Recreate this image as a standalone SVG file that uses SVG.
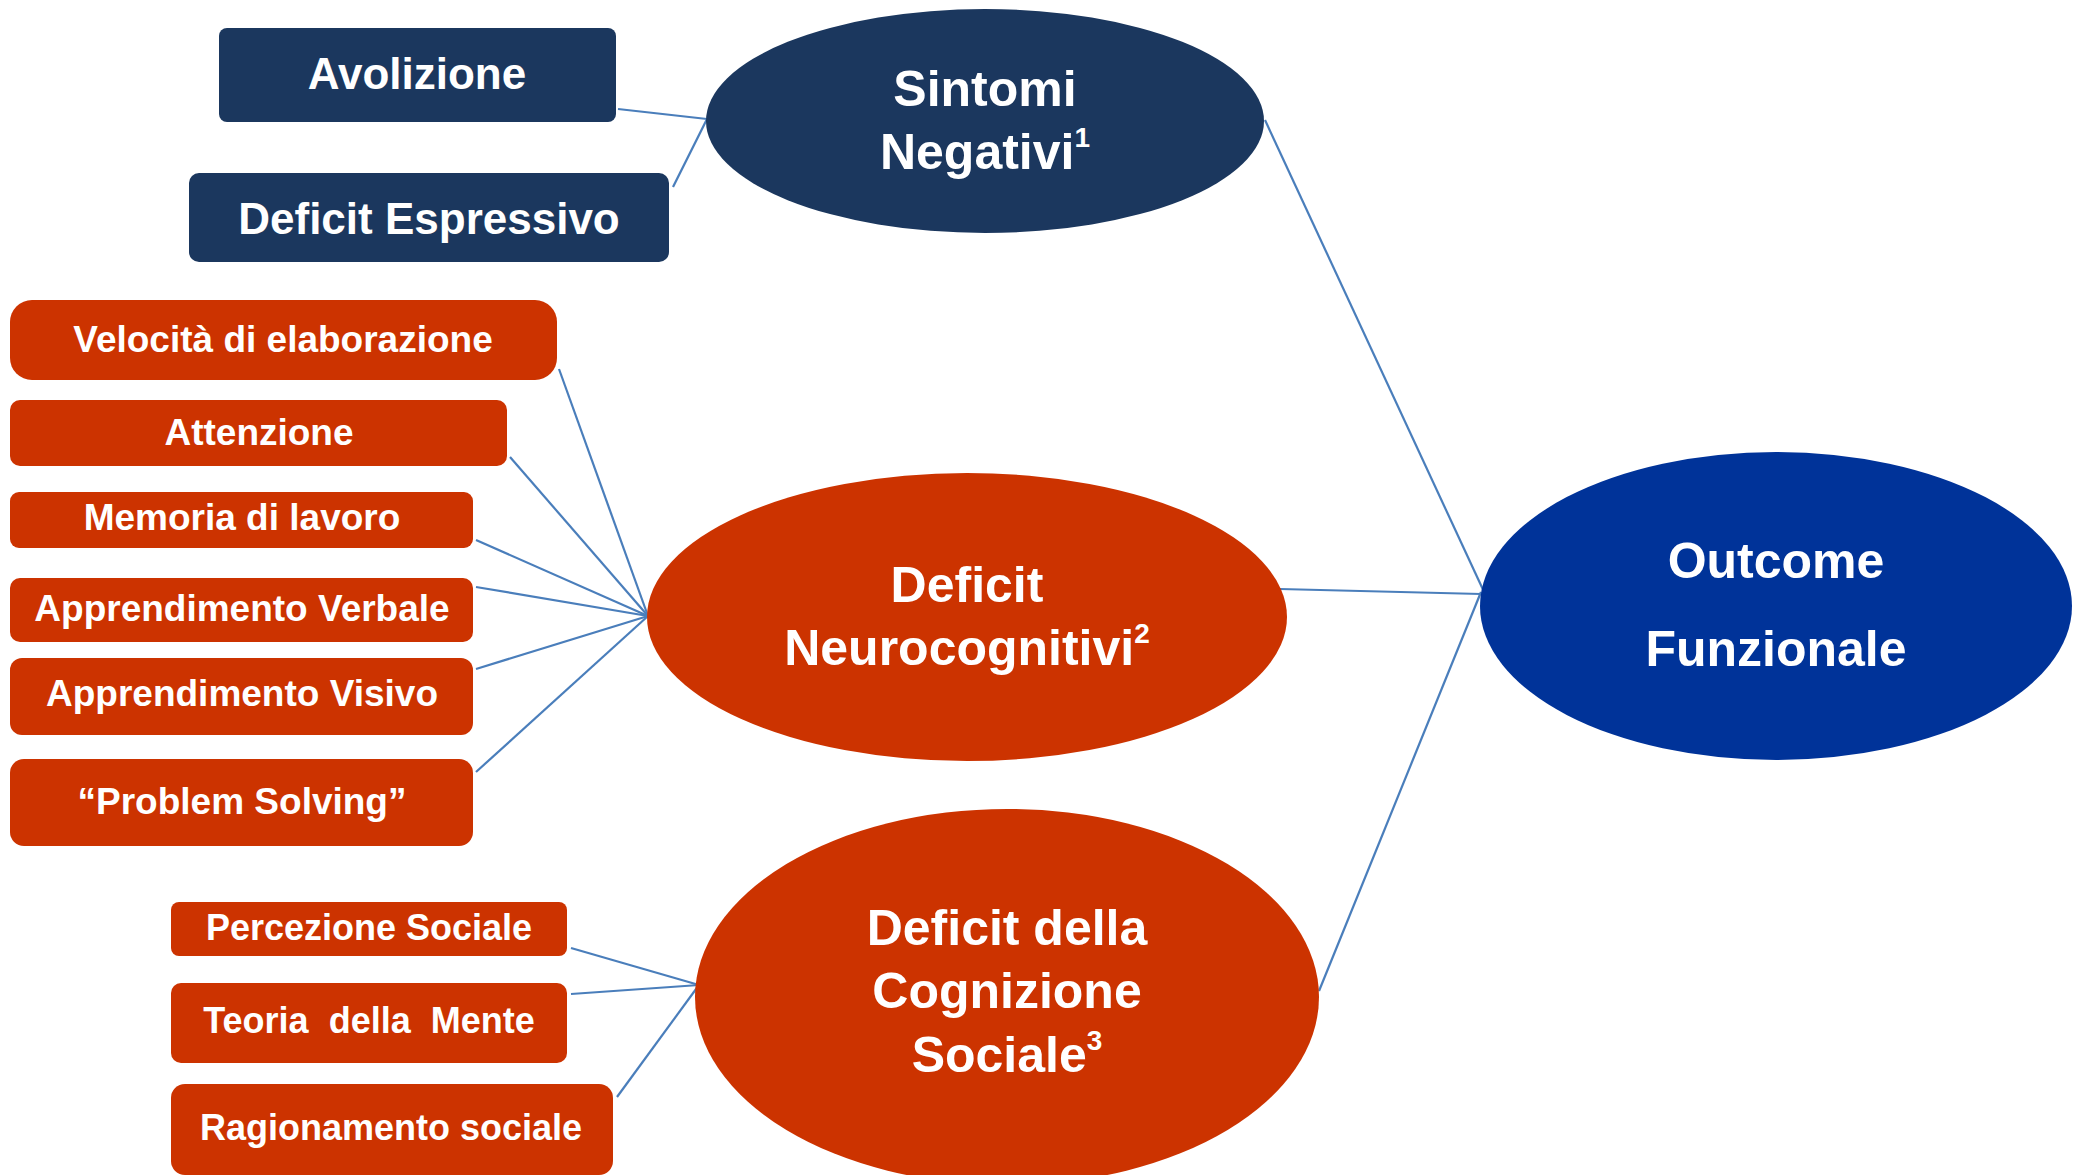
<svg xmlns="http://www.w3.org/2000/svg" width="2085" height="1175" viewBox="0 0 2085 1175">
  <style>
    .navy { fill: #1b375e; }
    .red { fill: #cc3300; }
    .blue { fill: #003399; }
    .lbl { font-family: "Liberation Sans", Arial, sans-serif; font-weight: bold; fill: #ffffff; text-anchor: middle; }
    .big { font-size: 50px; }
    .mid { font-size: 44px; }
    .sm { font-size: 37px; }
    .xs { font-size: 36px; }
    .sup { font-size: 28px; }
    .conn line { stroke: #4a7ebb; stroke-width: 2.2; fill: none; }
  </style>
  <rect width="2085" height="1175" fill="#ffffff"/>

  <!-- connectors -->
  <g id="connectors" class="conn">
    <line x1="618" y1="109" x2="707" y2="119"/>
    <line x1="673" y1="187" x2="707" y2="119"/>
    <line x1="559" y1="369" x2="648" y2="616"/>
    <line x1="510" y1="457" x2="648" y2="616"/>
    <line x1="476" y1="540" x2="648" y2="616"/>
    <line x1="476" y1="587" x2="648" y2="616"/>
    <line x1="476" y1="669" x2="648" y2="616"/>
    <line x1="476" y1="772" x2="648" y2="616"/>
    <line x1="571" y1="948" x2="699" y2="985"/>
    <line x1="571" y1="994" x2="699" y2="985"/>
    <line x1="617" y1="1097" x2="699" y2="985"/>
    <line x1="1265" y1="120" x2="1492" y2="609"/>
    <line x1="1280" y1="589" x2="1481" y2="594"/>
    <line x1="1319" y1="991" x2="1481" y2="592"/>
  </g>

  <!-- negative symptoms -->
  <g id="avolizione">
    <rect class="navy" x="219" y="28" width="397" height="94" rx="8"/>
    <text class="lbl mid" x="417" y="89">Avolizione</text>
  </g>
  <g id="deficit-espressivo">
    <rect class="navy" x="189" y="173" width="480" height="89" rx="10"/>
    <text class="lbl mid" x="429" y="234">Deficit Espressivo</text>
  </g>
  <g id="sintomi-negativi">
    <ellipse class="navy" cx="985" cy="121" rx="279" ry="112"/>
    <text class="lbl big" x="985" y="106">Sintomi</text>
    <text class="lbl big" x="985" y="169">Negativi<tspan class="sup" dy="-22">1</tspan></text>
  </g>

  <!-- neurocognitive deficits -->
  <g id="velocita">
    <rect class="red" x="10" y="300" width="547" height="80" rx="22"/>
    <text class="lbl sm" x="283" y="352">Velocità di elaborazione</text>
  </g>
  <g id="attenzione">
    <rect class="red" x="10" y="400" width="497" height="66" rx="10"/>
    <text class="lbl sm" x="259" y="445">Attenzione</text>
  </g>
  <g id="memoria">
    <rect class="red" x="10" y="492" width="463" height="56" rx="9"/>
    <text class="lbl sm" x="242" y="530">Memoria di lavoro</text>
  </g>
  <g id="apprendimento-verbale">
    <rect class="red" x="10" y="578" width="463" height="64" rx="10"/>
    <text class="lbl sm" x="242" y="621">Apprendimento Verbale</text>
  </g>
  <g id="apprendimento-visivo">
    <rect class="red" x="10" y="658" width="463" height="77" rx="12"/>
    <text class="lbl sm" x="242" y="706">Apprendimento Visivo</text>
  </g>
  <g id="problem-solving">
    <rect class="red" x="10" y="759" width="463" height="87" rx="14"/>
    <text class="lbl sm" x="242" y="814">“Problem Solving”</text>
  </g>
  <g id="deficit-neurocognitivi">
    <ellipse class="red" cx="967" cy="617" rx="320" ry="144"/>
    <text class="lbl big" x="967" y="602">Deficit</text>
    <text class="lbl big" x="967" y="665">Neurocognitivi<tspan class="sup" dy="-22">2</tspan></text>
  </g>

  <!-- social cognition deficits -->
  <g id="percezione-sociale">
    <rect class="red" x="171" y="902" width="396" height="54" rx="8"/>
    <text class="lbl xs" x="369" y="940">Percezione Sociale</text>
  </g>
  <g id="teoria-mente">
    <rect class="red" x="171" y="983" width="396" height="80" rx="10"/>
    <text class="lbl xs" x="369" y="1033" xml:space="preserve">Teoria  della  Mente</text>
  </g>
  <g id="ragionamento-sociale">
    <rect class="red" x="171" y="1084" width="442" height="91" rx="14"/>
    <text class="lbl xs" x="391" y="1140">Ragionamento sociale</text>
  </g>
  <g id="deficit-cognizione-sociale">
    <ellipse class="red" cx="1007" cy="997" rx="312" ry="188"/>
    <text class="lbl big" x="1007" y="945">Deficit della</text>
    <text class="lbl big" x="1007" y="1008">Cognizione</text>
    <text class="lbl big" x="1007" y="1072">Sociale<tspan class="sup" dy="-22">3</tspan></text>
  </g>

  <!-- outcome -->
  <g id="outcome-funzionale">
    <ellipse class="blue" cx="1776" cy="606" rx="296" ry="154"/>
    <text class="lbl big" x="1776" y="578">Outcome</text>
    <text class="lbl big" x="1776" y="666">Funzionale</text>
  </g>
</svg>
